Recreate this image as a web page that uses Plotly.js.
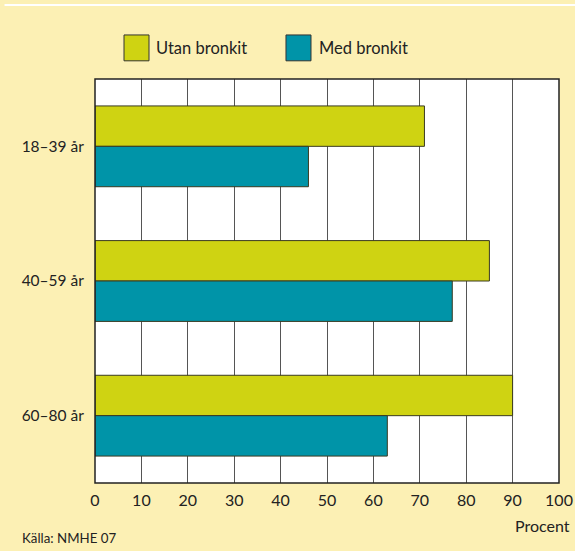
<!DOCTYPE html>
<html><head><meta charset="utf-8">
<script src="https://cdn.plot.ly/plotly-3.0.1.min.js"></script>
<style>html,body{margin:0;padding:0;background:#fcf0b4;}</style>
</head><body>
<div id="chart" style="width:575px;height:551px;"></div>
<script>
const categories = ["18–39 år", "40–59 år", "60–80 år"];
const seriesNames = ["Utan bronkit", "Med bronkit"];
const utanBronkit = [71, 85, 90];
const medBronkit = [46, 77, 63];
const xTicks = [0, 10, 20, 30, 40, 50, 60, 70, 80, 90, 100];
const colors = ["#cfd312", "#0094a8"];

const traces = [utanBronkit, medBronkit].map((vals, i) => ({
  type: "bar", orientation: "h", name: seriesNames[i],
  y: categories, x: vals,
  marker: {color: colors[i], line: {color: "#3a3a20", width: 1}},
  hoverinfo: "x+y", showlegend: false
}));

const font = "Lato, 'Open Sans', sans-serif";
const layout = {
  width: 575, height: 551,
  paper_bgcolor: "#fcf0b4", plot_bgcolor: "#ffffff",
  margin: {l: 95, r: 16, t: 79, b: 68},
  barmode: "group", bargap: 0.4, bargroupgap: 0,
  font: {family: font, size: 14, color: "#222"},
  xaxis: {
    range: [0, 100], tickvals: xTicks, ticktext: xTicks.map(String),
    showgrid: true, gridcolor: "#555", gridwidth: 1,
    zeroline: false, showline: false, ticks: "outside", ticklen: 3, tickcolor: "rgba(0,0,0,0)",
    tickfont: {size: 16, color: "#222", family: font}, fixedrange: true
  },
  yaxis: {
    autorange: false, range: [2.5, -0.5], type: "category",
    showgrid: false, zeroline: false, showline: false, ticks: "outside",
    ticklen: 7, tickcolor: "rgba(0,0,0,0)",
    tickfont: {size: 15.5, color: "#222", family: font}, fixedrange: true
  },
  shapes: [
    {type: "rect", xref: "paper", yref: "paper", x0: 0, x1: 1, y0: 0, y1: 1,
     line: {color: "#222", width: 1.5}, fillcolor: "rgba(0,0,0,0)"},
    {type: "line", xref: "paper", yref: "paper", x0: -0.195, x1: 1.04, y0: 1.183, y1: 1.183,
     line: {color: "#ffffff", width: 2}},
    {type: "rect", xref: "paper", yref: "paper", x0: 0.0625, x1: 0.1164, y0: 1.045, y1: 1.109,
     fillcolor: colors[0], line: {color: "#333", width: 1}},
    {type: "rect", xref: "paper", yref: "paper", x0: 0.4116, x1: 0.4655, y0: 1.045, y1: 1.109,
     fillcolor: colors[1], line: {color: "#333", width: 1}}
  ],
  annotations: [
    {xref: "paper", yref: "paper", x: 0.128, y: 1.077, xanchor: "left", yanchor: "middle",
     text: seriesNames[0], showarrow: false, font: {size: 16.5, color: "#222", family: font}},
    {xref: "paper", yref: "paper", x: 0.478, y: 1.077, xanchor: "left", yanchor: "middle",
     text: seriesNames[1], showarrow: false, font: {size: 16.5, color: "#222", family: font}},
    {xref: "paper", yref: "paper", x: 1.029, y: -0.105, xanchor: "right", yanchor: "middle",
     text: "Procent", showarrow: false, font: {size: 16, color: "#222", family: font}},
    {xref: "paper", yref: "paper", x: -0.161, y: -0.137, xanchor: "left", yanchor: "middle",
     text: "Källa: NMHE 07", showarrow: false, font: {size: 13.3, color: "#222", family: font}}
  ]
};
Plotly.newPlot("chart", traces, layout, {displayModeBar: false, staticPlot: true});
</script>
</body></html>
